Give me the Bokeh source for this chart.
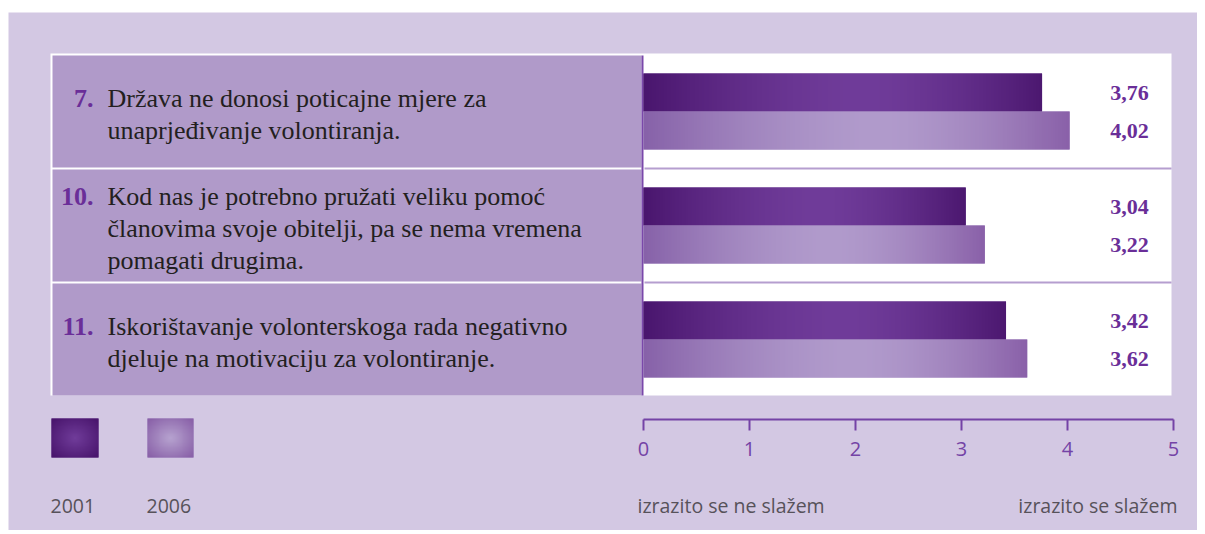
import numpy as np
from bokeh.plotting import figure
from bokeh.models import Range1d
from bokeh.core.properties import value
from bokeh.embed import file_html
from bokeh.resources import INLINE

# ---- data ----
numbers = ["7.", "10.", "11."]
questions = [
    ["Država ne donosi poticajne mjere za", "unaprjeđivanje volontiranja."],
    ["Kod nas je potrebno pružati veliku pomoć",
     "članovima svoje  obitelji, pa se nema vremena",
     "pomagati drugima."],
    ["Iskorištavanje volonterskoga rada negativno",
     "djeluje na motivaciju za volontiranje."],
]
v2001 = [3.76, 3.04, 3.42]
v2006 = [4.02, 3.22, 3.62]
labels2001 = ["3,76", "3,04", "3,42"]
labels2006 = ["4,02", "3,22", "3,62"]
years = ["2001", "2006"]
ticks = [0, 1, 2, 3, 4, 5]
tick_labels = ["0", "1", "2", "3", "4", "5"]
scale_left = "izrazito se ne slažem"
scale_right = "izrazito se slažem"

# ---- layout (page pixels) ----
W, H = 1197, 530
X0, K = 643.0, 106.0          # pixel of value 0, pixels per unit
def vx(px):
    return (px - X0) / K

TXT_DY = -7  # empirical text baseline correction

LAV = "#d3c8e3"
PANEL = "#b09ac9"
DARK = "#5c2a86"
LIGHT = "#9d80bf"
PURPLE_TXT = "#6a2e98"
AXIS_C = "#7443a6"
SERIF = value("Liberation Serif")
SANS = value("Open Sans")

def hexrgb(h):
    h = h.lstrip("#")
    return np.array([int(h[i:i + 2], 16) for i in (0, 2, 4)], dtype=float)

def pack(rgb):
    rgb = np.clip(rgb, 0, 255).astype(np.uint32)
    return (255 << 24) | (rgb[..., 2] << 16) | (rgb[..., 1] << 8) | rgb[..., 0]

def bar_gradient(c_left, c_mid, c_right, peak=0.55, ncol=240):
    t = np.linspace(0, 1, ncol)
    out = np.zeros((ncol, 3))
    a, m, b = hexrgb(c_left), hexrgb(c_mid), hexrgb(c_right)
    for i, ti in enumerate(t):
        if ti <= peak:
            f = 1 - ((peak - ti) / peak) ** 1.6
            out[i] = a + (m - a) * f
        else:
            f = 1 - ((ti - peak) / (1 - peak)) ** 1.6
            out[i] = b + (m - b) * f
    img = np.repeat(out[None, :, :], 2, axis=0)
    return pack(img)

def radial(c_edge, c_mid, n=48):
    yy, xx = np.mgrid[0:n, 0:n]
    r = np.sqrt(((xx - (n - 1) / 2) / (n / 2)) ** 2 + ((yy - (n - 1) / 2) / (n / 2)) ** 2)
    f = np.clip(1 - r / 1.3, 0, 1)[..., None]
    e, m = hexrgb(c_edge), hexrgb(c_mid)
    return pack(e + (m - e) * f)

p = figure(width=W, height=H, output_backend="svg", toolbar_location=None,
           x_range=Range1d(vx(0), vx(W)), y_range=Range1d(H, 0),
           min_border=0, background_fill_color="white", border_fill_color="white")
p.axis.visible = False
p.grid.visible = False
p.outline_line_color = None

# background
p.quad(left=vx(8), right=vx(W), top=12, bottom=H, fill_color=LAV, line_color=None)
# panel (white border + white plot area)
p.quad(left=vx(50), right=vx(1171), top=53, bottom=395, fill_color="white", line_color=None)

row_h, row_gap, row0 = 112, 2, 55
bar_h = 38
n = len(numbers)
tops = [row0 + i * (row_h + row_gap) for i in range(n)]
mids = [t + row_h / 2 for t in tops]

# left label cells
p.quad(left=[vx(52)] * n, right=[vx(641)] * n, top=tops, bottom=[t + row_h for t in tops],
       fill_color=PANEL, line_color=None)
# separators in bar area
for i in range(1, n):
    y = tops[i] - 1
    p.segment(x0=vx(644), x1=vx(1171), y0=y, y1=y, line_color="#b59ecf", line_width=2)
# vertical line
p.segment(x0=vx(642), x1=vx(642), y0=tops[0], y1=tops[-1] + row_h, line_color="#7a48aa", line_width=2)

# bars
y_dark = [m - bar_h / 2 for m in mids]
y_light = [m + bar_h / 2 for m in mids]
p.hbar(y=y_dark, left=0, right=v2001, height=bar_h, fill_color=DARK, line_color=None)
p.hbar(y=y_light, left=0, right=v2006, height=bar_h, fill_color=LIGHT, line_color=None)
# gradient shading over each bar
g_dark = bar_gradient("#4a166e", "#703c9a", "#4c1870")
g_light = bar_gradient("#8762a9", "#b19bcc", "#8a61a9")
p.image_rgba(image=[g_dark] * n, x=[v / 2 for v in v2001], y=y_dark, dw=v2001,
             dh=[bar_h] * n, anchor="center")
p.image_rgba(image=[g_light] * n, x=[v / 2 for v in v2006], y=y_light, dw=v2006,
             dh=[bar_h] * n, anchor="center")

# value labels
p.text(x=[vx(1129)] * n, y=[y + 7 + TXT_DY for y in y_dark], text=labels2001, text_align="center",
       text_baseline="alphabetic", text_font=SERIF, text_font_style="bold",
       text_font_size="22px", text_color=PURPLE_TXT)
p.text(x=[vx(1129)] * n, y=[y + 7 + TXT_DY for y in y_light], text=labels2006, text_align="center",
       text_baseline="alphabetic", text_font=SERIF, text_font_style="bold",
       text_font_size="22px", text_color=PURPLE_TXT)

# question texts
spacing = 32
for i in range(n):
    lines = questions[i]
    k = len(lines)
    bases = [mids[i] + 10 + TXT_DY + (j - (k - 1) / 2) * spacing for j in range(k)]
    p.text(x=[vx(93)], y=[bases[0]], text=[numbers[i]], text_align="right",
           text_baseline="alphabetic", text_font=SERIF, text_font_style="bold",
           text_font_size="26px", text_color=PURPLE_TXT)
    p.text(x=[vx(107)] * k, y=bases, text=lines, text_align="left",
           text_baseline="alphabetic", text_font=SERIF, text_font_size="26px",
           text_color="#231f20")

# scale axis
AX_Y = 419
p.segment(x0=ticks[0], x1=ticks[-1], y0=AX_Y, y1=AX_Y, line_color=AXIS_C, line_width=2)
p.segment(x0=ticks, x1=ticks, y0=[AX_Y] * len(ticks), y1=[AX_Y + 11] * len(ticks),
          line_color=AXIS_C, line_width=2)
p.text(x=ticks, y=[AX_Y + 38 + TXT_DY - 2] * len(ticks), text=tick_labels, text_align="center",
       text_baseline="alphabetic", text_font=SANS, text_font_size="20px", text_color=AXIS_C)

# scale end labels
p.text(x=[vx(637)], y=[512 + TXT_DY], text=[scale_left], text_align="left", text_baseline="alphabetic",
       text_font=SANS, text_font_size="19.5px", text_color="#57525a")
p.text(x=[vx(1177)], y=[512 + TXT_DY], text=[scale_right], text_align="right", text_baseline="alphabetic",
       text_font=SANS, text_font_size="19.5px", text_color="#57525a")

# legend
p.quad(left=[vx(51), vx(147)], right=[vx(98), vx(193)], top=[418, 418], bottom=[457, 457],
       fill_color=[DARK, LIGHT], line_color=None)
p.image_rgba(image=[radial("#4a166e", "#713d9b"), radial("#8a62a9", "#b7a3d0")],
             x=[vx(74.5), vx(170)], y=[437.5, 437.5], dw=[47 / K, 46 / K], dh=[39, 39],
             anchor="center")
p.text(x=[vx(50), vx(146)], y=[512 + TXT_DY, 512 + TXT_DY], text=years, text_align="left",
       text_baseline="alphabetic", text_font=SANS, text_font_size="19.5px", text_color="#57525a")

open("out.html", "w").write(file_html(p, INLINE))
